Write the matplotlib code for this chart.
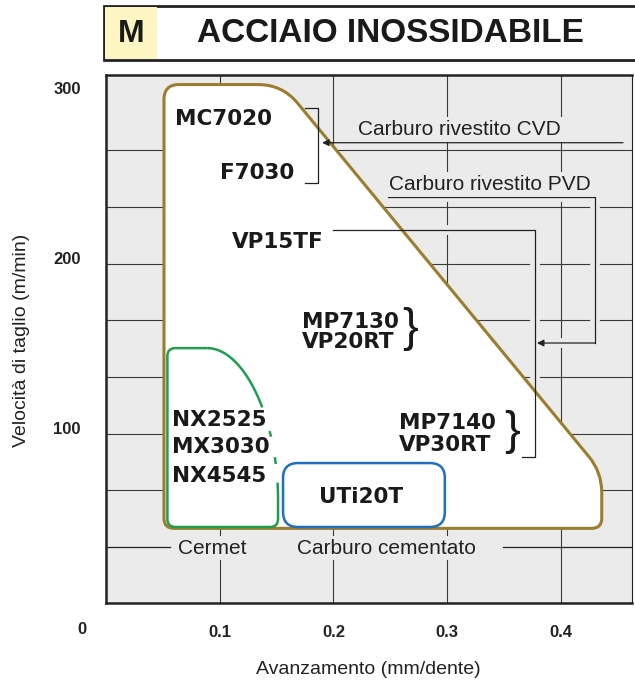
import numpy as np
import matplotlib.pyplot as plt
from matplotlib.path import Path
from matplotlib.patches import PathPatch, Rectangle

# Campo di applicazione - acciaio inossidabile (M)

x_ticks = [0.1, 0.2, 0.3, 0.4]
x_labels = ['0.1', '0.2', '0.3', '0.4']
y_ticks = [100, 200, 300]
y_labels = ['100', '200', '300']

# carburo (area dorata): avanzamento / velocita
carbide_x = [0.051, 0.051, 0.155, 0.436, 0.436]
carbide_y = [41, 302, 302, 74, 41]

# cermet (area verde): tratto dritto + curva
cermet_x = [0.1513, 0.1513, 0.054, 0.054, 0.089]
cermet_y = [57.6, 41.8, 41.8, 147, 147]
cermet_curve_x = [0.089, 0.122, 0.1513, 0.1513]
cermet_curve_y = [147, 147, 104.7, 57.6]

# UTi20T (area blu)
uti_x = [0.1557, 0.1557, 0.298, 0.298]
uti_y = [41.8, 79.4, 79.4, 41.8]

grid_y = [63.3, 96.7, 130, 163.3, 196.7, 230, 263.3]

W, H = 635, 686
bg = '#ebebeb'
ink = '#1a1a1a'
gold = '#9b7d2e'
green = '#1e9e4e'
blue = '#1f6fbd'


def fx(px):
    return px / W


def fy(py):
    return 1 - py / H


fig = plt.figure(figsize=(6.35, 6.86), dpi=100)
ax = fig.add_axes([fx(106), fy(603), fx(632) - fx(106), fy(74.7) - fy(603)])
ax.set_xlim(0, 0.4626)
ax.set_ylim(-2.9, 307.8)
ax.set_facecolor(bg)
for s in ax.spines.values():
    s.set_linewidth(1.8)
    s.set_color('#222222')
ax.spines['right'].set_linewidth(0.8)

ax.set_xticks(x_ticks, labels=x_labels)
ax.set_yticks(y_ticks, labels=y_labels)
ax.tick_params(axis='x', length=0, pad=15.5)
ax.tick_params(axis='y', length=0, pad=18)
for lab in ax.get_xticklabels() + ax.get_yticklabels():
    lab.set_family('Liberation Sans')
    lab.set_fontweight('bold')
    lab.set_fontsize(12)
    lab.set_color('#222222')

# griglia
for x in x_ticks:
    ax.axvline(x, color='#3a3a3a', lw=0.8, zorder=1)
for y in grid_y:
    ax.axhline(y, color='#3a3a3a', lw=0.8, zorder=1)


def rounded_path(xs, ys, radii, closed=True):
    pts = ax.transData.transform(np.column_stack([xs, ys]))
    n = len(pts)
    verts, codes = [], []
    for i in range(n):
        p = pts[i]
        if not closed and (i == 0 or i == n - 1):
            verts.append(p)
            codes.append(Path.MOVETO if i == 0 else Path.LINETO)
            continue
        a = pts[i - 1]
        b = pts[(i + 1) % n]
        da = (a - p) / np.linalg.norm(a - p)
        db = (b - p) / np.linalg.norm(b - p)
        r = radii[i]
        verts += [p + da * r, p, p + db * r]
        codes += [Path.MOVETO if i == 0 else Path.LINETO, Path.CURVE3, Path.CURVE3]
    if closed:
        verts.append(verts[0])
        codes.append(Path.CLOSEPOLY)
    return Path(ax.transData.inverted().transform(np.array(verts)), codes)


# area carburo
carb = rounded_path(carbide_x, carbide_y, [10, 15, 24, 20, 10])
ax.add_patch(PathPatch(carb, facecolor='white', edgecolor=gold, lw=2.2, zorder=2))

# area cermet
cer = rounded_path(cermet_x, cermet_y, [0, 8, 8, 8, 0], closed=False)
ax.add_patch(PathPatch(cer, facecolor='none', edgecolor=green, lw=1.8, zorder=3))
cp = ax.transData.transform(np.column_stack([cermet_curve_x, cermet_curve_y]))
t = np.linspace(0, 1, 300)[:, None]
bez = ((1 - t) ** 3 * cp[0] + 3 * (1 - t) ** 2 * t * cp[1]
       + 3 * (1 - t) * t ** 2 * cp[2] + t ** 3 * cp[3])
bez_d = ax.transData.inverted().transform(bez)
py = H - bez[:, 1]
for lo, hi in [(0, 408), (431, 437), (457, 464), (482, 900)]:
    m = (py >= lo) & (py <= hi)
    ax.plot(bez_d[m, 0], bez_d[m, 1], color=green, lw=1.8, zorder=3,
            solid_capstyle='butt')

# area UTi20T
uti = rounded_path(uti_x, uti_y, [15, 15, 15, 15])
ax.add_patch(PathPatch(uti, facecolor='none', edgecolor=blue, lw=1.8, zorder=3))

# etichette gradi
bold = dict(family='DejaVu Sans', fontweight='bold', fontsize=15.5, color=ink, zorder=6)
ax.text(0.0607, 281.8, 'MC7020', ha='left', va='center', **bold)
ax.text(0.1003, 250, 'F7030', ha='left', va='center', **bold)
ax.text(0.1108, 209.4, 'VP15TF', ha='left', va='center', **bold)
ax.text(0.1724, 162.4, 'MP7130', ha='left', va='center', **bold)
ax.text(0.1724, 150.6, 'VP20RT', ha='left', va='center', **bold)
ax.text(0.2577, 103, 'MP7140', ha='left', va='center', **bold)
ax.text(0.2577, 90, 'VP30RT', ha='left', va='center', **bold)
ax.text(0.058, 104.7, 'NX2525', ha='left', va='center', **bold)
ax.text(0.058, 88.8, 'MX3030', ha='left', va='center', **bold)
ax.text(0.058, 71.8, 'NX4545', ha='left', va='center', **bold)
ax.text(0.2243, 59.4, 'UTi20T', ha='center', va='center', **bold)

brace = dict(family='Liberation Sans', fontsize=34, color=ink, ha='center', va='center', zorder=6)
ax.text(0.2674, 158.5, '}', **brace)
ax.text(0.357, 97.5, '}', **brace)

# richiami e frecce
line = dict(color='#222222', lw=0.9, zorder=5)
halo = dict(color=bg, lw=7, zorder=1.5, solid_capstyle='butt')
ax.plot([0.175, 0.1865, 0.1865, 0.175], [288.2, 288.2, 244.1, 244.1], **line)
ax.annotate('', xy=(0.19, 267.8), xytext=(0.4547, 267.8),
            arrowprops=dict(arrowstyle='-|>', color='#222222', lw=0.9,
                            mutation_scale=10, shrinkA=0, shrinkB=0), zorder=5)

pvd_x = [0.248, 0.430, 0.430]
pvd_y = [235.9, 235.9, 150]
ax.plot(pvd_x, pvd_y, **halo)
ax.plot(pvd_x, pvd_y, **line)
ax.plot([0.430, 0.385], [150, 150], **halo)
ax.annotate('', xy=(0.379, 150), xytext=(0.430, 150),
            arrowprops=dict(arrowstyle='-|>', color='#222222', lw=0.9,
                            mutation_scale=10, shrinkA=0, shrinkB=0), zorder=5)

vp_x = [0.1997, 0.3773, 0.3773, 0.366]
vp_y = [216.5, 216.5, 82.9, 82.9]
ax.plot(vp_x, vp_y, **halo)
ax.plot(vp_x, vp_y, **line)

# etichette famiglie
fam = dict(family='Liberation Sans', fontsize=15, color='#222222', ha='center', va='center',
           zorder=6, bbox=dict(facecolor=bg, edgecolor='none', pad=2))
ax.text(0.311, 275.6, 'Carburo rivestito CVD', **fam)
ax.text(0.3377, 243.2, 'Carburo rivestito PVD', **fam)
ax.text(0.0932, 29.4, 'Cermet', **fam)
ax.text(0.247, 29.4, 'Carburo cementato', **fam)
ax.plot([0, 0.056], [29.8, 29.8], color='#222222', lw=0.9, zorder=1)
ax.plot([0.349, 0.4626], [29.8, 29.8], color='#222222', lw=0.9, zorder=1)

# titolo
fig.add_artist(Rectangle((fx(104), fy(60)), fx(660) - fx(104), fy(6) - fy(60),
                         transform=fig.transFigure, facecolor='white',
                         edgecolor='#222222', lw=2.0))
fig.add_artist(Rectangle((fx(105), fy(59)), fx(157) - fx(105), fy(7) - fy(59),
                         transform=fig.transFigure, facecolor='#fdf5c2',
                         edgecolor='none'))
fig.text(fx(131), fy(34), 'M', ha='center', va='center', family='Liberation Sans',
         fontweight='bold', fontsize=23, color=ink)
fig.text(fx(390), fy(34), 'ACCIAIO INOSSIDABILE', ha='center', va='center',
         family='Liberation Sans', fontweight='bold', fontsize=24, color=ink)

fig.text(fx(82), fy(629), '0', ha='center', va='center', family='Liberation Sans',
         fontweight='bold', fontsize=12, color='#222222')
fig.text(fx(22), fy(340), 'Velocità di taglio (m/min)', rotation=90, ha='center',
         va='center', family='Liberation Sans', fontsize=14, color='#222222')
fig.text(fx(368), fy(670), 'Avanzamento (mm/dente)', ha='center', va='center',
         family='Liberation Sans', fontsize=14, color='#222222')

fig.savefig('out.png', dpi=100)
